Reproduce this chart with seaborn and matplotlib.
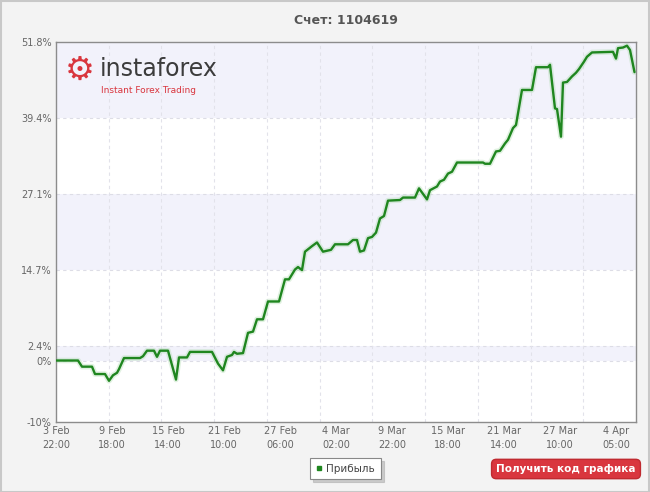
import seaborn as sns
import matplotlib.pyplot as plt
import matplotlib
from matplotlib.lines import Line2D
from matplotlib.patches import Rectangle
import pandas as pd

# point position along the chart (ticks every 28 points) and profit in %
x_pos = [0, 11, 13, 18, 19.5, 24.5, 26.5, 28.5, 30.5, 31.5, 34, 42, 43.5, 45.5, 49, 50.5, 52, 56,
         60, 61.5, 65.5, 67, 78, 81, 83.5, 85.5, 88, 89, 90.5, 93.5, 96, 98.5, 100.5, 103.5, 106,
         111.5, 114.5, 116.5, 119.5, 121, 123, 124.5, 128, 130.5, 133.5, 137.5, 139.5, 146, 148.5,
         150.5, 152, 154, 156, 158, 160, 162, 164, 166, 172, 173.5, 179.5, 181.5, 185.5, 187,
         190.5, 192, 194, 196, 198, 200.5, 213.5, 214.5, 217, 220, 222, 224.5, 226, 228.5, 230,
         233, 238, 240, 246, 247, 249.5, 250.5, 252.5, 253.5, 255.5, 258, 260, 261.5, 264, 265.5,
         268, 278.5, 280, 281, 283.5, 285.5, 287, 289.25]
profit = [0.0, 0.0, -1.0, -1.0, -2.2, -2.2, -3.3, -2.4, -2.0, -1.4, 0.4, 0.4, 0.7, 1.6, 1.6, 0.6,
          1.6, 1.6, -3.1, 0.5, 0.5, 1.4, 1.4, -0.5, -1.6, 0.6, 0.9, 1.4, 1.1, 1.2, 4.5, 4.7, 6.7,
          6.7, 9.6, 9.6, 13.2, 13.2, 14.8, 15.2, 14.7, 17.7, 18.6, 19.2, 17.7, 18.0, 18.9, 18.9,
          19.6, 19.6, 17.7, 17.9, 19.9, 20.1, 20.8, 23.1, 23.5, 26.0, 26.1, 26.5, 26.5, 28.0, 26.2,
          27.7, 28.3, 29.1, 29.4, 30.4, 30.7, 32.2, 32.2, 32.0, 32.0, 34.0, 34.1, 35.3, 35.9, 37.8,
          38.3, 44.0, 44.0, 47.7, 47.7, 48.1, 41.0, 40.9, 36.4, 45.2, 45.3, 46.2, 46.8, 47.4, 48.6,
          49.4, 50.1, 50.2, 49.1, 50.8, 50.9, 51.2, 50.5, 46.9]

tick_pos = [0, 28, 56, 84, 112, 140, 168, 196, 224, 252, 280]
tick_labels = ["3 Feb\n22:00", "9 Feb\n18:00", "15 Feb\n14:00", "21 Feb\n10:00", "27 Feb\n06:00",
               "4 Mar\n02:00", "9 Mar\n22:00", "15 Mar\n18:00", "21 Mar\n14:00", "27 Mar\n10:00",
               "4 Apr\n05:00"]
y_ticks = [-10, 0, 2.4, 14.7, 27.1, 39.4, 51.8]
y_labels = ["-10%", "0%", "2.4%", "14.7%", "27.1%", "39.4%", "51.8%"]

df = pd.DataFrame({"x": x_pos, "profit": profit})

line_green = "#1f861f"
band_color = "#f2f2fb"
text_gray = "#555555"
red = "#d9363e"

sns.set_style("white")
matplotlib.rcParams['font.family'] = ["DejaVu Sans"]

fig = plt.figure(figsize=(6.5, 4.92), dpi=100)
fig.patch.set_facecolor("#f3f3f3")
fig.patches.append(Rectangle((0.001, 0.001), 0.997, 0.997, transform=fig.transFigure,
                             fill=False, edgecolor="#c8c8c8", linewidth=1.5))

ax = fig.add_axes([56 / 650, 1 - 422 / 492, 580 / 650, 380 / 492])
ax.set_facecolor("white")

# shaded bands
for lo, hi in [(39.4, 51.8), (14.7, 27.1), (0, 2.4)]:
    ax.axhspan(lo, hi, color=band_color, zorder=0, linewidth=0)

# dashed grid
for yv in y_ticks[1:-1]:
    ax.axhline(yv, color="#dddde6", linestyle=(0, (3, 3)), linewidth=0.8, zorder=1)
step = 290 / 11
for k in range(1, 11):
    ax.axvline(k * step, color="#e2e2ea", linestyle=(0, (3, 3)), linewidth=0.8, zorder=1)

# soft glow under the line
ax.plot(df["x"], df["profit"], color="#a8d8a8", linewidth=4, alpha=0.35, zorder=2,
        solid_joinstyle="round")
sns.lineplot(ax=ax, data=df, x="x", y="profit", color=line_green, linewidth=1.7,
             sort=False, estimator=None, legend=False, zorder=3)

ax.set_xlim(0, 290)
ax.set_ylim(-10, 51.8)
ax.set_xticks(tick_pos)
ax.set_xticklabels(tick_labels, fontsize=7, color="#666666", linespacing=1.5)
ax.set_yticks(y_ticks)
ax.set_yticklabels(y_labels, fontsize=7, color="#666666")
ax.tick_params(length=0, pad=3)
ax.set_xlabel("")
ax.set_ylabel("")
for side in ["left", "bottom", "top", "right"]:
    ax.spines[side].set_visible(True)
    ax.spines[side].set_color("#8c8c8c")
    ax.spines[side].set_linewidth(1)

# logo
ax.text(0.016, 0.925, "\u2699", transform=ax.transAxes, fontsize=24, color=red,
        va="center", ha="left", fontweight="bold", zorder=5)
ax.text(0.075, 0.93, "instaforex", transform=ax.transAxes, fontsize=17, color="#3c3c3c",
        va="center", ha="left", zorder=5)
ax.text(0.078, 0.872, "Instant Forex Trading", transform=ax.transAxes, fontsize=6.5,
        color=red, va="center", ha="left", zorder=5)

fig.text(346 / 650, 1 - 20 / 492, "Счет: 1104619", ha="center", va="center",
         fontsize=9, fontweight="bold", color=text_gray)

handle = Line2D([], [], color=line_green, marker="s", markersize=3, linestyle="none")
leg = fig.legend(handles=[handle], labels=["Прибыль"], loc="center",
                 bbox_to_anchor=(345.5 / 650, 1 - 468.5 / 492), fontsize=7.5, frameon=True,
                 fancybox=False, shadow={"color": "#b0b0b0", "alpha": 0.6}, handlelength=0.6,
                 handletextpad=0.4, borderpad=0.55)
leg.get_frame().set_edgecolor("#888888")
leg.get_frame().set_linewidth(0.8)
for t in leg.get_texts():
    t.set_color("#444444")

fig.text(566 / 650, 1 - 469 / 492, "Получить код графика", ha="center", va="center",
         fontsize=7.5, fontweight="bold", color="white",
         bbox=dict(boxstyle="round,pad=0.45", facecolor=red, edgecolor="#c02a30"))

plt.savefig("out.png", dpi=100, facecolor=fig.get_facecolor())
plt.close("all")
